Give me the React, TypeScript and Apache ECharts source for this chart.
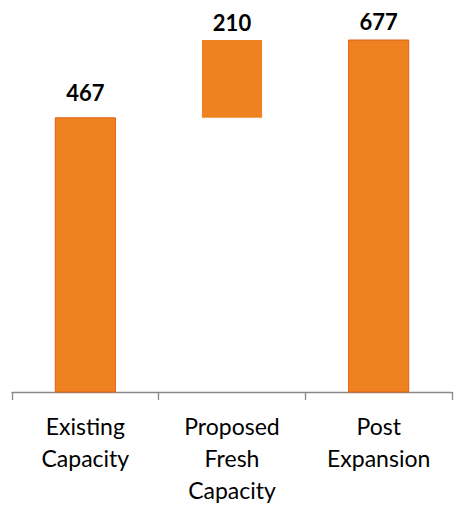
import React, { useEffect, useRef } from "react";
import * as echarts from "echarts";

const categories = ["Existing\nCapacity", "Proposed\nFresh\nCapacity", "Post\nExpansion"];
const values = [467, 210, 677];
// waterfall: which bars float on top of the previous total
const floating = [false, true, false];
const labelGaps = [14, 7, 7];

const Y_MIN = -273;
const Y_MAX = 677;

export default function App() {
  const ref = useRef<HTMLDivElement>(null);
  useEffect(() => {
    if (!ref.current) return;
    const chart = echarts.init(ref.current, undefined, { renderer: "svg" });
    // build [index, start, end, value]
    const rows: number[][] = [];
    let running = 0;
    values.forEach((v, i) => {
      if (floating[i]) {
        rows.push([i, running, running + v, v]);
        running += v;
      } else {
        rows.push([i, Y_MIN, v, v]);
        running = v;
      }
    });
    chart.setOption({
      animation: false,
      grid: { left: 12, right: 19, top: 40, bottom: 119 },
      xAxis: {
        type: "category",
        data: categories,
        boundaryGap: true,
        axisLine: { onZero: false, lineStyle: { color: "#898989", width: 1.3 } },
        axisTick: { show: true, length: 8, lineStyle: { color: "#898989", width: 1.3 } },
        axisLabel: {
          interval: 0,
          margin: 18,
          fontFamily: "Lato",
          fontSize: 23,
          lineHeight: 32,
          color: "#000",
        },
      },
      yAxis: {
        type: "value",
        min: Y_MIN,
        max: Y_MAX,
        show: false,
        splitLine: { show: false },
      },
      series: [
        {
          type: "custom",
          data: rows,
          clip: false,
          encode: { x: 0, y: [1, 2] },
          renderItem: (params: any, api: any) => {
            const idx = api.value(0);
            const start = api.value(1);
            const end = api.value(2);
            const val = api.value(3);
            const p0 = api.coord([idx, start]);
            const p1 = api.coord([idx, end]);
            const band = api.size([1, 0])[0];
            const w = band * 0.41;
            const isFloat = floating[params.dataIndex];
            return {
              type: "rect",
              shape: { x: p0[0] - w / 2, y: p1[1], width: w, height: p0[1] - p1[1] },
              style: {
                fill: "#EF8220",
                stroke: isFloat ? null : "#E2601A",
                lineWidth: isFloat ? 0 : 1,
              },
              textContent: {
                style: {
                  text: String(val),
                  fontFamily: "Lato",
                  fontWeight: "bold",
                  fontSize: 22,
                  fill: "#000",
                },
              },
              textConfig: { position: "top", distance: labelGaps[params.dataIndex] },
            };
          },
        },
      ],
    });
    return () => chart.dispose();
  }, []);
  return (
    <div
      ref={ref}
      style={{ position: "absolute", left: 0, top: 0, width: 471, height: 511 }}
    />
  );
}
